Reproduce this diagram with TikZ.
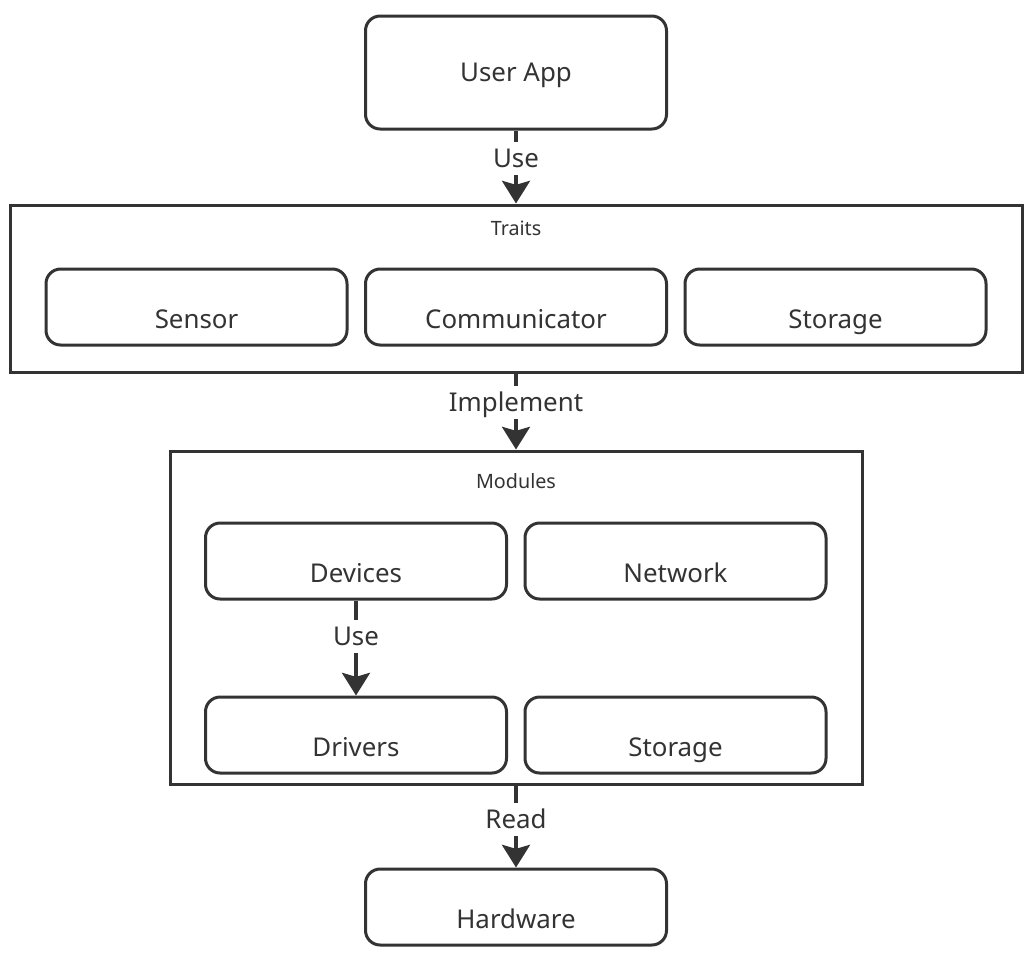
\documentclass[tikz,border=0pt]{standalone}
\usepackage{fontspec}
\setmainfont{Noto Sans}
\usetikzlibrary{arrows.meta}
\definecolor{ink}{HTML}{333333}

\begin{document}
\begin{tikzpicture}[
  x=0.75pt, y=-0.75pt,
  every node/.style={text=ink, font=\fontsize{19.4}{23}\selectfont},
  box/.style={draw=ink, line width=2.25pt, rounded corners=11pt,
    minimum width=225.75pt, minimum height=57pt, inner sep=0pt,
    text height=44.25pt, text depth=12.75pt},
  group/.style={draw=ink, line width=2.25pt, inner sep=0pt},
  grouplabel/.style={anchor=base, font=\fontsize{14.8}{17}\selectfont},
  link/.style={draw=ink, line width=2.6pt,
    -{Stealth[length=17pt,width=21pt,inset=3pt]}},
  linklabel/.style={fill=white, pos=.38, inner xsep=2pt, inner ysep=5.6pt,
    text height=13.6pt, text depth=0pt}
  ]
\useasboundingbox (0,0) rectangle (1035,965);

% groups
\node[group, minimum width=759pt, minimum height=125.25pt] (traits) at (516,288.5) {};
\node[grouplabel] (traitslbl) at (516,235) {Traits};
\node[group, minimum width=519pt, minimum height=249.75pt] (modules) at (516,617.5) {};
\node[grouplabel] (moduleslbl) at (516,488) {Modules};

% boxes
\node[box, minimum height=84.75pt, text height=13.6pt, text depth=0pt] (userapp) at (516,72.5) {User App};
\node[box] (sensor) at (196.5,307) {Sensor};
\node[box] (comm) at (516,307) {Communicator};
\node[box] (traitstore) at (835.5,307) {Storage};
\node[box] (devices) at (356,561) {Devices};
\node[box] (network) at (675.5,561) {Network};
\node[box] (drivers) at (356,735) {Drivers};
\node[box] (modstore) at (675.5,735) {Storage};
\node[box] (hardware) at (516,907) {Hardware};

% links
\draw[link] (userapp) -- node[linklabel] {Use} (traits);
\draw[link] (traits) -- node[linklabel] {Implement} (modules);
\draw[link] (devices) -- node[linklabel] {Use} (drivers);
\draw[link] (modules) -- node[linklabel, pos=.41] {Read} (hardware);
\end{tikzpicture}
\end{document}
